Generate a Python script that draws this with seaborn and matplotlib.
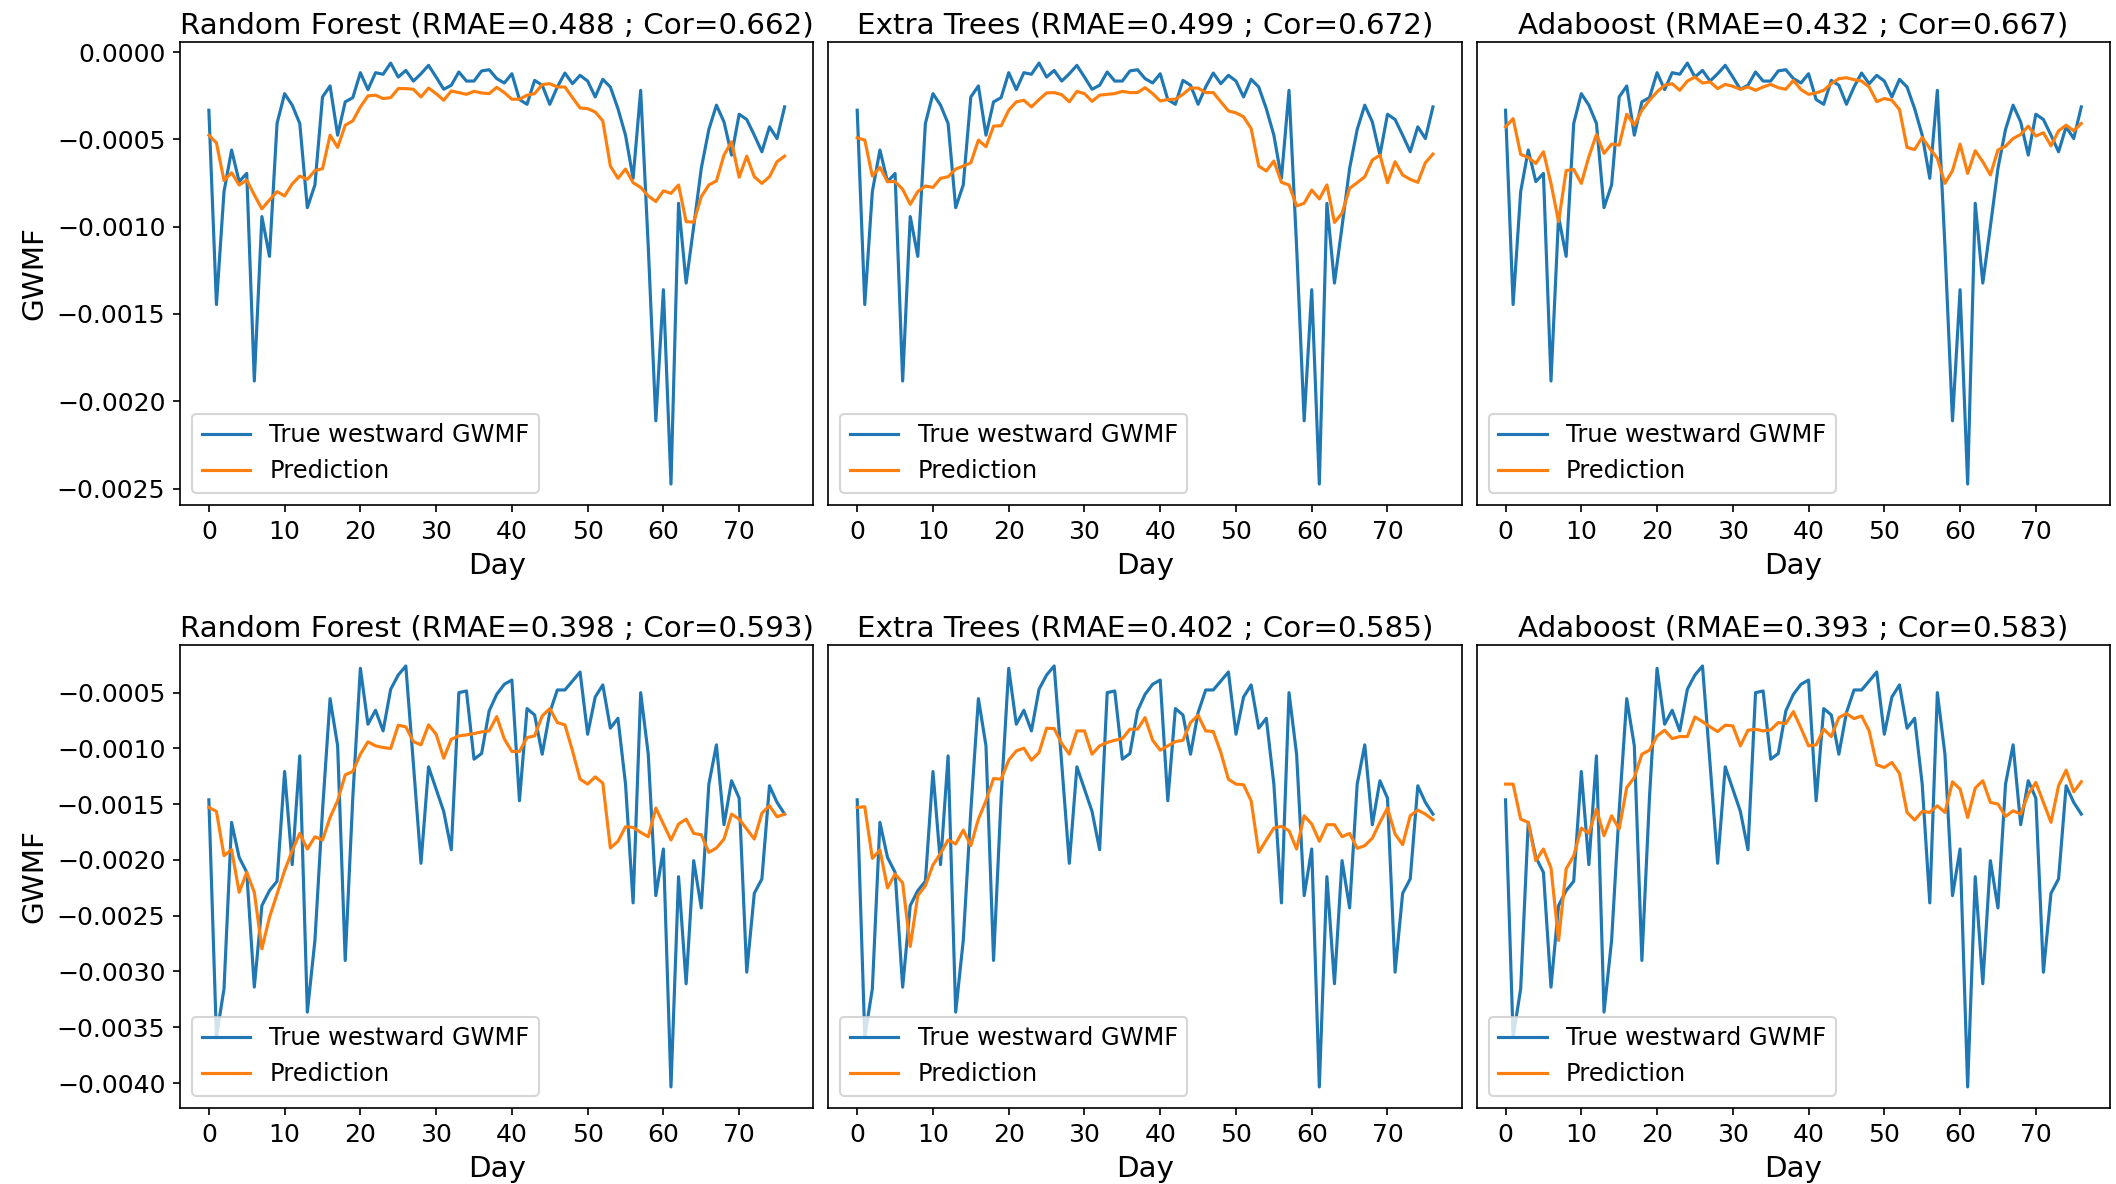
import numpy as np
import pandas as pd
import matplotlib
matplotlib.use("Agg")
import matplotlib.pyplot as plt
import seaborn as sns

days = list(range(77))

true_top = [-0.000333, -0.001446, -0.000799, -0.000561, -0.000742, -0.000695, -0.001884, -0.000942, -0.001170, -0.000409,
            -0.000238, -0.000304, -0.000409, -0.000891, -0.000761, -0.000257, -0.000194, -0.000476, -0.000285, -0.000261,
            -0.000118, -0.000215, -0.000118, -0.000127, -0.000063, -0.000143, -0.000105, -0.000166, -0.000124, -0.000076,
            -0.000143, -0.000213, -0.000190, -0.000114, -0.000166, -0.000166, -0.000108, -0.000101, -0.000152, -0.000177,
            -0.000124, -0.000272, -0.000299, -0.000162, -0.000190, -0.000299, -0.000200, -0.000120, -0.000181, -0.000133,
            -0.000166, -0.000257, -0.000156, -0.000200, -0.000324, -0.000476, -0.000723, -0.000219, -0.001113, -0.002112,
            -0.001361, -0.002474, -0.000866, -0.001323, -0.000999, -0.000666, -0.000443, -0.000304, -0.000400, -0.000590,
            -0.000356, -0.000386, -0.000476, -0.000571, -0.000428, -0.000495, -0.000314]

pred_top_rf = [-0.000476, -0.000520, -0.000736, -0.000691, -0.000761, -0.000733, -0.000818, -0.000898, -0.000847, -0.000799,
               -0.000824, -0.000755, -0.000710, -0.000729, -0.000679, -0.000668, -0.000476, -0.000546, -0.000419, -0.000394,
               -0.000314, -0.000251, -0.000247, -0.000266, -0.000261, -0.000209, -0.000209, -0.000213, -0.000257, -0.000206,
               -0.000238, -0.000276, -0.000223, -0.000232, -0.000242, -0.000225, -0.000234, -0.000238, -0.000202, -0.000232,
               -0.000270, -0.000270, -0.000247, -0.000238, -0.000186, -0.000181, -0.000200, -0.000200, -0.000261, -0.000320,
               -0.000324, -0.000343, -0.000394, -0.000653, -0.000723, -0.000670, -0.000748, -0.000775, -0.000824, -0.000856,
               -0.000795, -0.000809, -0.000761, -0.000971, -0.000974, -0.000828, -0.000761, -0.000738, -0.000590, -0.000514,
               -0.000717, -0.000596, -0.000714, -0.000752, -0.000714, -0.000628, -0.000596]

pred_top_et = [-0.000491, -0.000504, -0.000710, -0.000660, -0.000742, -0.000742, -0.000786, -0.000872, -0.000799, -0.000767,
               -0.000775, -0.000723, -0.000714, -0.000670, -0.000653, -0.000634, -0.000504, -0.000542, -0.000424, -0.000422,
               -0.000333, -0.000285, -0.000276, -0.000314, -0.000272, -0.000234, -0.000232, -0.000244, -0.000285, -0.000225,
               -0.000238, -0.000282, -0.000247, -0.000242, -0.000238, -0.000225, -0.000232, -0.000232, -0.000204, -0.000238,
               -0.000280, -0.000272, -0.000270, -0.000242, -0.000206, -0.000206, -0.000232, -0.000232, -0.000285, -0.000337,
               -0.000348, -0.000371, -0.000438, -0.000653, -0.000681, -0.000624, -0.000746, -0.000761, -0.000881, -0.000866,
               -0.000790, -0.000841, -0.000761, -0.000976, -0.000923, -0.000780, -0.000748, -0.000714, -0.000618, -0.000590,
               -0.000748, -0.000628, -0.000704, -0.000729, -0.000746, -0.000634, -0.000584]

pred_top_ada = [-0.000428, -0.000381, -0.000586, -0.000603, -0.000638, -0.000571, -0.000752, -0.000971, -0.000679, -0.000672,
                -0.000752, -0.000599, -0.000472, -0.000580, -0.000527, -0.000533, -0.000356, -0.000419, -0.000333, -0.000276,
                -0.000228, -0.000190, -0.000181, -0.000219, -0.000166, -0.000143, -0.000177, -0.000171, -0.000209, -0.000185,
                -0.000196, -0.000213, -0.000200, -0.000219, -0.000200, -0.000185, -0.000204, -0.000213, -0.000162, -0.000215,
                -0.000242, -0.000234, -0.000219, -0.000181, -0.000152, -0.000147, -0.000158, -0.000166, -0.000200, -0.000284,
                -0.000266, -0.000276, -0.000329, -0.000546, -0.000558, -0.000489, -0.000552, -0.000609, -0.000752, -0.000679,
                -0.000527, -0.000695, -0.000565, -0.000628, -0.000704, -0.000561, -0.000539, -0.000495, -0.000472, -0.000424,
                -0.000481, -0.000462, -0.000537, -0.000451, -0.000419, -0.000451, -0.000409]

true_bottom = [-0.001461, -0.003587, -0.003155, -0.001663, -0.001977, -0.002111, -0.003140, -0.002409, -0.002275, -0.002191,
               -0.001207, -0.002042, -0.001067, -0.003364, -0.002722, -0.001559, -0.000554, -0.000977, -0.002901, -0.001440,
               -0.000282, -0.000783, -0.000658, -0.000843, -0.000470, -0.000342, -0.000261, -0.001141, -0.002030, -0.001165,
               -0.001365, -0.001565, -0.001908, -0.000500, -0.000485, -0.001097, -0.001046, -0.000664, -0.000515, -0.000425,
               -0.000387, -0.001469, -0.000643, -0.000700, -0.001052, -0.000679, -0.000476, -0.000476, -0.000396, -0.000315,
               -0.000873, -0.000539, -0.000431, -0.000819, -0.000730, -0.001320, -0.002385, -0.000500, -0.001052, -0.002320,
               -0.001902, -0.004035, -0.002150, -0.003110, -0.002006, -0.002430, -0.001320, -0.000968, -0.001684, -0.001290,
               -0.001446, -0.003006, -0.002299, -0.002170, -0.001335, -0.001484, -0.001589]

pred_bottom_rf = [-0.001529, -0.001565, -0.001962, -0.001908, -0.002290, -0.002111, -0.002290, -0.002797, -0.002514, -0.002305,
                  -0.002096, -0.001917, -0.001762, -0.001902, -0.001792, -0.001821, -0.001619, -0.001469, -0.001237, -0.001207,
                  -0.001052, -0.000941, -0.000977, -0.000992, -0.001001, -0.000792, -0.000807, -0.000939, -0.000968, -0.000789,
                  -0.000873, -0.001088, -0.000918, -0.000888, -0.000879, -0.000867, -0.000852, -0.000843, -0.000715, -0.000915,
                  -0.001028, -0.001028, -0.000903, -0.000888, -0.000709, -0.000643, -0.000768, -0.000789, -0.001022, -0.001276,
                  -0.001320, -0.001255, -0.001311, -0.001893, -0.001833, -0.001702, -0.001708, -0.001753, -0.001792, -0.001535,
                  -0.001678, -0.001821, -0.001678, -0.001634, -0.001762, -0.001774, -0.001932, -0.001893, -0.001813, -0.001589,
                  -0.001634, -0.001723, -0.001813, -0.001580, -0.001514, -0.001613, -0.001589]

pred_bottom_et = [-0.001529, -0.001523, -0.001986, -0.001911, -0.002251, -0.002126, -0.002206, -0.002776, -0.002320, -0.002230,
                  -0.002045, -0.001941, -0.001821, -0.001857, -0.001732, -0.001872, -0.001634, -0.001469, -0.001270, -0.001276,
                  -0.001106, -0.001022, -0.000998, -0.001106, -0.001037, -0.000819, -0.000822, -0.000956, -0.001052, -0.000843,
                  -0.000843, -0.001052, -0.000977, -0.000947, -0.000927, -0.000912, -0.000828, -0.000828, -0.000724, -0.000927,
                  -0.001016, -0.000977, -0.000939, -0.000927, -0.000768, -0.000703, -0.000843, -0.000849, -0.001037, -0.001276,
                  -0.001320, -0.001326, -0.001469, -0.001932, -0.001821, -0.001714, -0.001699, -0.001738, -0.001902, -0.001604,
                  -0.001678, -0.001833, -0.001684, -0.001684, -0.001792, -0.001762, -0.001896, -0.001872, -0.001804, -0.001663,
                  -0.001535, -0.001768, -0.001863, -0.001604, -0.001553, -0.001589, -0.001640]

pred_bottom_ada = [-0.001320, -0.001320, -0.001634, -0.001663, -0.002006, -0.001902, -0.002072, -0.002722, -0.002081, -0.001962,
                   -0.001714, -0.001762, -0.001544, -0.001783, -0.001604, -0.001723, -0.001350, -0.001261, -0.001052, -0.001016,
                   -0.000888, -0.000837, -0.000912, -0.000894, -0.000894, -0.000718, -0.000760, -0.000807, -0.000849, -0.000792,
                   -0.000798, -0.000977, -0.000837, -0.000828, -0.000843, -0.000834, -0.000768, -0.000777, -0.000670, -0.000819,
                   -0.000977, -0.000968, -0.000828, -0.000894, -0.000724, -0.000688, -0.000733, -0.000709, -0.000843, -0.001147,
                   -0.001171, -0.001126, -0.001225, -0.001574, -0.001642, -0.001565, -0.001574, -0.001514, -0.001574, -0.001299,
                   -0.001365, -0.001619, -0.001356, -0.001290, -0.001484, -0.001499, -0.001610, -0.001559, -0.001589, -0.001410,
                   -0.001305, -0.001484, -0.001663, -0.001335, -0.001195, -0.001389, -0.001299]

titles_top = ["Random Forest (RMAE=0.488 ; Cor=0.662)",
              "Extra Trees (RMAE=0.499 ; Cor=0.672)",
              "Adaboost (RMAE=0.432 ; Cor=0.667)"]
titles_bottom = ["Random Forest (RMAE=0.398 ; Cor=0.593)",
                 "Extra Trees (RMAE=0.402 ; Cor=0.585)",
                 "Adaboost (RMAE=0.393 ; Cor=0.583)"]

DPI = 151
fig, axes = plt.subplots(2, 3, figsize=(2116 / DPI, 1184 / DPI), dpi=DPI)
fig.subplots_adjust(left=0.0851, right=0.9972, top=0.9645, bottom=0.0642,
                    wspace=0.0237, hspace=0.302)

rows = [(true_top, [pred_top_rf, pred_top_et, pred_top_ada], titles_top),
        (true_bottom, [pred_bottom_rf, pred_bottom_et, pred_bottom_ada], titles_bottom)]

for r, (tr, preds, titles) in enumerate(rows):
    for c in range(3):
        ax = axes[r, c]
        df = pd.DataFrame({"Day": days, "true": tr, "pred": preds[c]})
        sns.lineplot(data=df, x="Day", y="true", ax=ax, color="#1f77b4",
                     linewidth=1.5, label="True westward GWMF")
        sns.lineplot(data=df, x="Day", y="pred", ax=ax, color="#ff7f0e",
                     linewidth=1.5, label="Prediction")
        ax.set_title(titles[c], fontsize=14, pad=4)
        ax.set_xlabel("Day", fontsize=14)
        if c == 0:
            ax.set_ylabel("GWMF", fontsize=14)
        else:
            ax.set_ylabel("")
        ax.set_xticks([0, 10, 20, 30, 40, 50, 60, 70])
        ax.tick_params(labelsize=12)
        ax.legend(loc="lower left", fontsize=11.5)
        if c == 0:
            if r == 0:
                ax.set_yticks([0.0, -0.0005, -0.0010, -0.0015, -0.0020, -0.0025])
                ax.set_yticklabels(["0.0000", "\u22120.0005", "\u22120.0010", "\u22120.0015", "\u22120.0020", "\u22120.0025"])
            else:
                ax.set_yticks([-0.0005, -0.0010, -0.0015, -0.0020, -0.0025, -0.0030, -0.0035, -0.0040])
                ax.set_yticklabels(["\u22120.0005", "\u22120.0010", "\u22120.0015", "\u22120.0020",
                                    "\u22120.0025", "\u22120.0030", "\u22120.0035", "\u22120.0040"])
        else:
            ax.set_yticks([])

fig.savefig("out.png", dpi=DPI)
